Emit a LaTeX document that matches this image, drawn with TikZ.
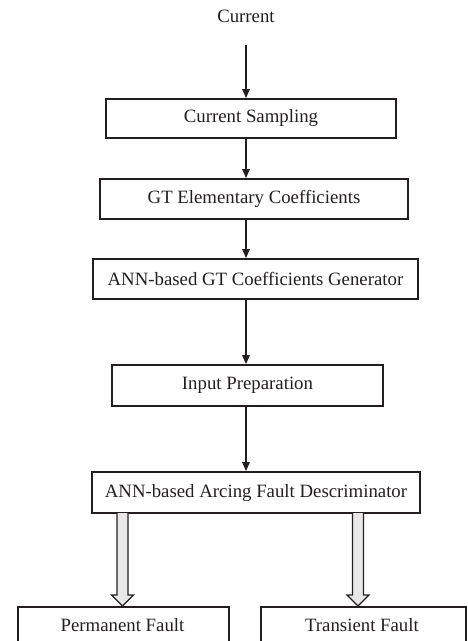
\documentclass[tikz,border=0pt]{standalone}
\usepackage{fontspec}
\setmainfont{Liberation Serif}
\usetikzlibrary{arrows.meta,calc}
\definecolor{ink}{HTML}{231F20}
\definecolor{hollow}{HTML}{E8E8E8}
\tikzset{
  lbl/.style={font=\fontsize{18.8}{22}\selectfont,text=ink},
  stagebox/.style={lbl,draw=ink,line width=1.8pt,inner sep=0pt},
  flow/.style={draw=ink,line width=1.4pt,-{Triangle[length=9pt,width=7.5pt]}},
  fatarrow/.style={draw=ink,line width=1.1pt,fill=hollow,line join=miter}
}
\begin{document}
\begin{tikzpicture}[x=1pt,y=-1pt]
\useasboundingbox (0,0) rectangle (468,641);
\clip (0,0) rectangle (468,641);
\node[lbl] (cur) at (246,16) {Current};
\coordinate (curend) at (246,45);
\node[stagebox,minimum width=290pt,minimum height=39pt] (b1) at (251,118.5) {Current Sampling};
\node[stagebox,minimum width=308pt,minimum height=40pt] (b2) at (254,199) {GT Elementary Coefficients};
\node[stagebox,minimum width=325pt,minimum height=40pt] (b3) at (255.5,279) {ANN-based GT Coefficients Generator};
\node[stagebox,minimum width=271pt,minimum height=41pt] (b4) at (247.5,385.5) {Input Preparation};
\node[stagebox,minimum width=328pt,minimum height=41pt] (b5) at (256,492.5) {ANN-based Arcing Fault Descriminator};
\node[stagebox,minimum width=211pt,minimum height=60pt,anchor=north west] (pf) at (17,606) {};
\node[stagebox,minimum width=205pt,minimum height=60pt,anchor=north west] (tf) at (260,606) {};
\node[lbl] (pft) at (122.5,625) {Permanent Fault};
\node[lbl] (tft) at (362,625) {Transient Fault};
\draw[flow] (curend) -- (b1.north -| curend);
\draw[flow] (b1.south -| curend) -- (b2.north -| curend);
\draw[flow] (b2.south -| curend) -- (b3.north -| curend);
\draw[flow] (b3.south -| curend) -- (b4.north -| curend);
\draw[flow] (b4.south -| curend) -- (b5.north -| curend);
% hollow arrows
\foreach \ax in {122.5,358}{
  \draw[fatarrow] (\ax-5.5,513) -- (\ax-5.5,595) -- (\ax-11,595) -- (\ax,606) -- (\ax+11,595) -- (\ax+5.5,595) -- (\ax+5.5,513);
}
\end{tikzpicture}
\end{document}
